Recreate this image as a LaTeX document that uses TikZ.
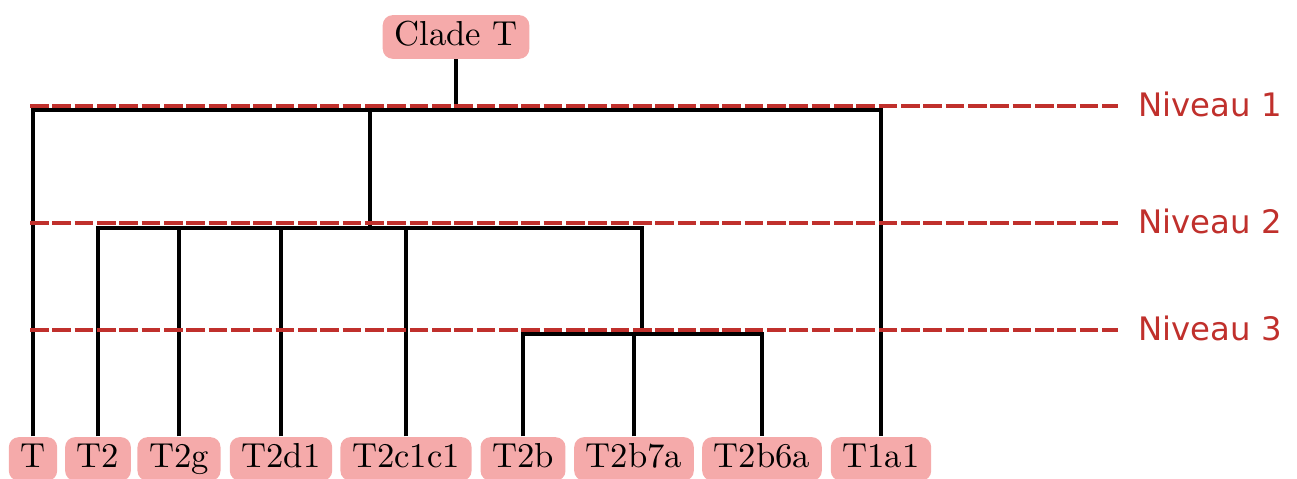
\documentclass[tikz,border=0pt]{standalone}
\usepackage{fontspec}
\newfontfamily\levelfont{DejaVu Sans}
\usepackage{tikz}
\usetikzlibrary{positioning}
\definecolor{leafpink}{HTML}{F5AAAA}
\definecolor{levelred}{HTML}{C0302C}

\begin{document}
\begin{tikzpicture}[x=0.3pt,y=-0.3pt,
	taxon/.style={fill=leafpink,rounded corners=3pt,inner xsep=3.5pt,inner ysep=2pt,text height=7.1pt,text depth=2pt,font=\fontsize{10.4}{12}\selectfont},
	branch/.style={line width=1pt,black},
	levelline/.style={line width=1pt,levelred,dash pattern=on 5.6pt off 1.1pt},
	levellabel/.style={text=levelred,font=\levelfont\fontsize{9.7}{12}\selectfont,anchor=west,inner xsep=6pt}]
					   \useasboundingbox (0,0) rectangle (1297,479);
					   \node[taxon] (clade) at (456,37) {Clade T};
					   % leaves
					   \node[taxon] (T) at (33,459) {T};
					   \node[taxon] (T2) at (98,459) {T2};
					   \node[taxon] (T2g) at (179,459) {T2g};
					   \node[taxon] (T2d1) at (281,459) {T2d1};
					   \node[taxon] (T2c1c1) at (406,459) {T2c1c1};
					   \node[taxon] (T2b) at (523,459) {T2b};
					   \node[taxon] (T2b7a) at (634,459) {T2b7a};
					   \node[taxon] (T2b6a) at (762,459) {T2b6a};
					   \node[taxon] (T1a1) at (881,459) {T1a1};
					   % branch points
					   \coordinate (b1) at (0,110);
					   \coordinate (b2) at (0,228);
					   \coordinate (b3) at (0,334);
					   \coordinate (g2) at (370,228);
					   \coordinate (g3) at (642,334);
					    \draw[branch] (clade) -- (clade |- b1);
					    \draw[branch] (T.north) |- (T1a1 |- b1) -- (T1a1.north);
					    \draw[branch] (g2) -- (g2 |- b1);
					    \draw[branch] (T2.north) |- (g3 |- b2) -- (g3);
					    \draw[branch] (T2g) -- (T2g |- b2);
					    \draw[branch] (T2d1) -- (T2d1 |- b2);
					    \draw[branch] (T2c1c1) -- (T2c1c1 |- b2);
					    \draw[branch] (T2b.north) |- (T2b6a |- b3) -- (T2b6a.north);
					    \draw[branch] (T2b7a) -- (T2b7a |- b3);
					   % levels
					   \node[levellabel] (niv1) at (1118,104) {Niveau 1};
					   \node[levellabel] (niv2) at (1118,221) {Niveau 2};
					   \node[levellabel] (niv3) at (1118,328) {Niveau 3};
					   \coordinate (l1) at (30,106);
					   \coordinate (l2) at (30,223);
					   \coordinate (l3) at (30,330);
					    \draw[levelline] (l1) -- (l1 -| niv1.west);
					    \draw[levelline] (l2) -- (l2 -| niv2.west);
					    \draw[levelline] (l3) -- (l3 -| niv3.west);
					\end{tikzpicture}
\end{document}
